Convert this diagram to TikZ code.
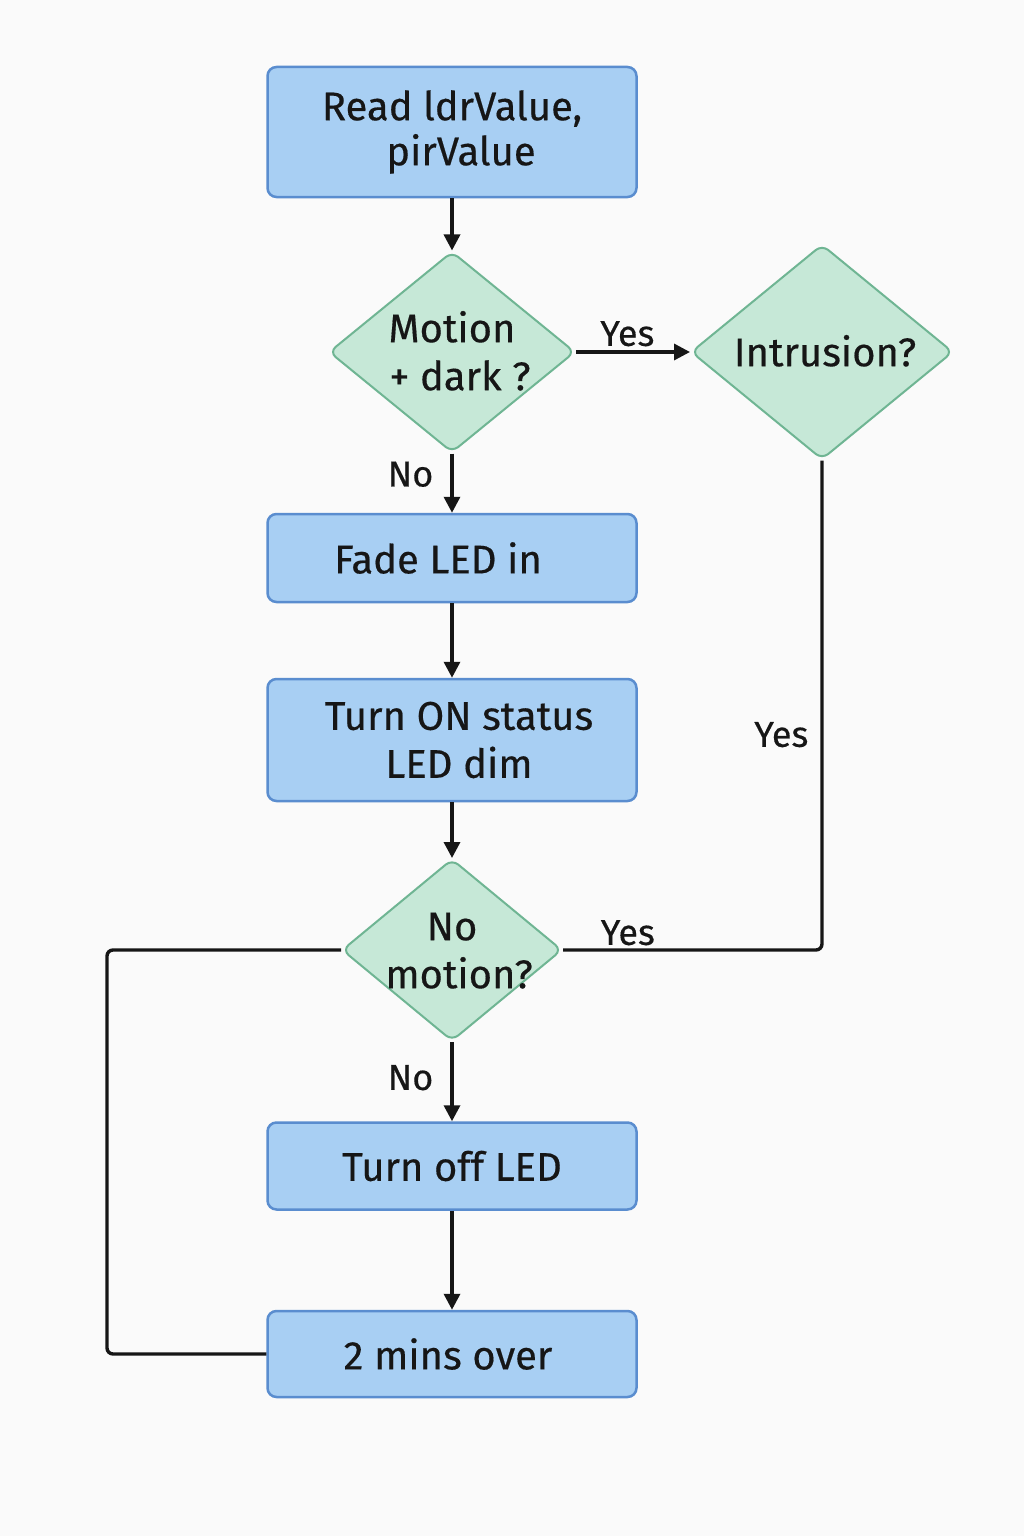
\documentclass[tikz,border=0pt]{standalone}
\usepackage{fontspec}
\setmainfont{Fira Sans}[FakeBold=0.4]
\usetikzlibrary{shapes.geometric,arrows.meta}
\definecolor{bg}{HTML}{FAFAFA}
\definecolor{boxfill}{HTML}{A8CFF3}
\definecolor{boxline}{HTML}{5A8DCF}
\definecolor{diafill}{HTML}{C6E8D7}
\definecolor{dialine}{HTML}{6FB593}
\definecolor{ink}{HTML}{161616}
\newcommand\dtext[1]{\makebox[0pt]{\smash{\raisebox{-0.27em}{\begin{tabular}{@{}c@{}}#1\end{tabular}}}}}
\begin{document}
\begin{tikzpicture}[x=1pt,y=-1pt,
  every node/.style={font=\fontsize{40}{48}\selectfont, text=ink},
  procbox/.style={rectangle, rounded corners=9pt, draw=boxline, fill=boxfill, line width=2.5pt,
    minimum width=369pt, inner sep=0pt, align=center},
  dia/.style={diamond, rounded corners=8pt, draw=dialine, fill=diafill, line width=2pt, inner sep=0pt},
  conn/.style={draw=ink, line width=3.4pt, rounded corners=6pt},
  arr/.style={conn, -{Triangle[length=16pt,width=16pt]}},
  lbl/.style={font=\fontsize{36}{40}\selectfont, inner sep=0pt}]
\useasboundingbox (0,0) rectangle (1024,1536);
\fill[bg] (0,0) rectangle (1024,1536);

\node[procbox, minimum height=130pt] (read) at (452,132) {\raisebox{-3pt}{Read ldrValue,}\\\hspace*{18pt}pirValue};
\node[dia, minimum width=246pt, minimum height=201pt] (md) at (452,352) {\dtext{Motion\\\hspace*{16pt}+ dark ?}};
\node[dia, minimum width=262pt, minimum height=215pt] (intr) at (822,352) {\dtext{\hspace*{6pt}Intrusion?}};
\node[procbox, minimum height=88pt] (fade) at (452,558) {Fade LED in\hspace*{28pt}};
\node[procbox, minimum height=122pt] (dim) at (452,740) {\hspace*{14pt}Turn ON status\\\hspace*{14pt}LED dim};
\node[dia, minimum width=220pt, minimum height=182pt] (nomo) at (452,950) {\dtext{No\\\hspace*{14pt}motion?}};
\node[procbox, minimum height=87pt] (off) at (452,1166) {Turn off LED};
\node[procbox, minimum height=86pt] (two) at (452,1354) {2 mins over\hspace*{8pt}};

\draw[arr] (read) -- (md);
\draw[arr] (md.east) -- node[lbl, above=4pt, pos=0.45] {Yes} (intr.west);
\draw[arr] (md) -- node[lbl, left=17pt, pos=0.35] {No} (fade);
\draw[arr] (fade) -- (dim);
\draw[arr] (dim) -- (nomo);
\draw[arr] (nomo) -- node[lbl, left=17pt, pos=0.45] {No} (off);
\draw[arr] (off) -- (two);
\draw[conn] (intr.south) |- node[lbl, left=12pt, pos=0.28] {Yes} node[lbl, above=3pt, pos=0.875] {Yes} (nomo.east);
\draw[conn] (nomo.west) -- ++(-234,0) |- (two.west);
\end{tikzpicture}
\end{document}
